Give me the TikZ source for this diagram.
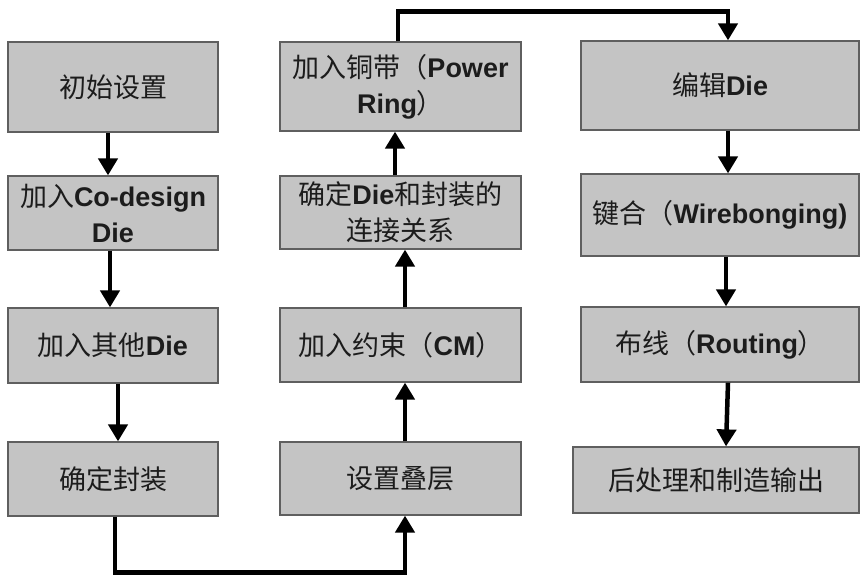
\documentclass[tikz,border=0pt]{standalone}
\usepackage{fontspec}
\setmainfont{Liberation Sans}
\newfontfamily\cjkfont{Noto Sans CJK SC}
\usetikzlibrary{arrows.meta}
\newcommand\zhs[1]{{\cjkfont #1}}
\newcommand\ens[1]{{\bfseries #1}}
\definecolor{boxfill}{RGB}{196,196,196}
\definecolor{boxborder}{RGB}{95,95,95}
\definecolor{textcol}{RGB}{28,28,28}
\tikzset{
  box/.style={draw=boxborder, line width=1.2pt, fill=boxfill, inner sep=0pt,
    align=center, text=textcol, font=\fontsize{27}{36}\selectfont},
  arr/.style={line width=4.5pt, black, -{Triangle[width=19pt,length=17pt]}}
}
\begin{document}
\begin{tikzpicture}[x=1pt,y=-1pt]
\useasboundingbox (0,0) rectangle (861,575);
% column 1
\node[box, minimum width=210pt, minimum height=90pt] (A1) at (113,87) {\zhs{初始设置}};
\node[box, minimum width=210pt, minimum height=74pt] (A2) at (113,213) {\zhs{加入}\ens{Co-design}\\\ens{Die}};
\node[box, minimum width=210pt, minimum height=75pt] (A3) at (113,345.5) {\zhs{加入其他}\ens{Die}};
\node[box, minimum width=210pt, minimum height=74pt] (A4) at (113,479) {\zhs{确定封装}};
% column 2
\node[box, minimum width=241pt, minimum height=89pt] (B1) at (400.5,86.5) {\zhs{加入铜带（}\ens{Power}\\\ens{Ring}\zhs{）}};
\node[box, minimum width=241pt, minimum height=73pt] (B2) at (400.5,212.5) {\zhs{确定}\ens{Die}\zhs{和封装的}\\\zhs{连接关系}};
\node[box, minimum width=241pt, minimum height=74pt] (B3) at (400.5,345) {\zhs{加入约束（}\ens{CM}\zhs{）}};
\node[box, minimum width=241pt, minimum height=73pt] (B4) at (400.5,478.5) {\zhs{设置叠层}};
% column 3
\node[box, minimum width=278pt, minimum height=89pt] (C1) at (720,85.5) {\zhs{编辑}\ens{Die}};
\node[box, minimum width=278pt, minimum height=82pt] (C2) at (720,215) {\zhs{键合（}\ens{Wirebonging)}};
\node[box, minimum width=278pt, minimum height=75pt] (C3) at (720,344.5) {\zhs{布线（}\ens{Routing}\zhs{）}};
\node[box, minimum width=286pt, minimum height=66pt] (C4) at (716,480) {\zhs{后处理和制造输出}};
% connectors
\draw[arr] ([xshift=-5pt]A1.south) -- ([xshift=-5pt]A2.north);
\draw[arr] ([xshift=-3pt]A2.south) -- ([xshift=-3pt]A3.north);
\draw[arr] ([xshift=5pt]A3.south) -- ([xshift=5pt]A4.north);
\draw[arr] ([xshift=2pt]A4.south) -- ++(0,56) -| ([xshift=4.5pt]B4.south);
\draw[arr] ([xshift=4.5pt]B4.north) -- ([xshift=4.5pt]B3.south);
\draw[arr] ([xshift=4.5pt]B3.north) -- ([xshift=4.5pt]B2.south);
\draw[arr] ([xshift=-5.5pt]B2.north) -- ([xshift=-5.5pt]B1.south);
\draw[arr] ([xshift=-2.5pt]B1.north) -- ++(0,-30) -| ([xshift=8pt]C1.north);
\draw[arr] ([xshift=8pt]C1.south) -- ([xshift=8pt]C2.north);
\draw[arr] ([xshift=6pt]C2.south) -- ([xshift=6pt]C3.north);
\draw[arr] ([xshift=8pt]C3.south) -- ([xshift=10pt]C4.north);
\end{tikzpicture}
\end{document}
